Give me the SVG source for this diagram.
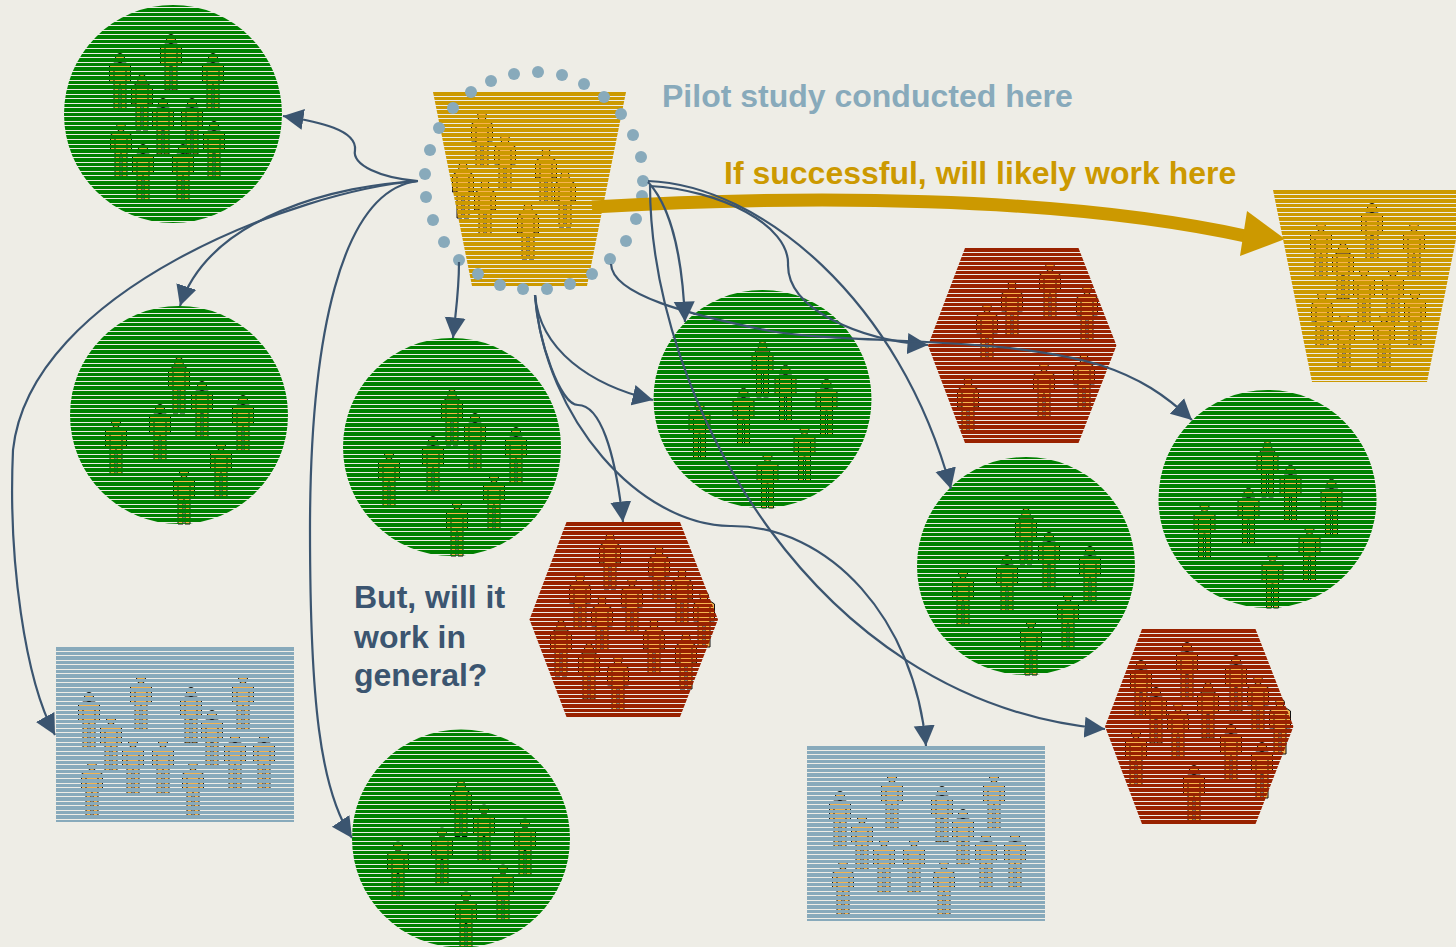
<svg xmlns="http://www.w3.org/2000/svg" width="1456" height="947" viewBox="0 0 1456 947">
<style>
.bg{fill:#eeede6}
.p{fill:#f6b450;stroke:#111;stroke-width:1}
.st{fill:none;stroke-dasharray:3.55 1;shape-rendering:crispEdges}
.c{fill:none;stroke:#3b5570;stroke-width:2.2;marker-end:url(#ah)}
.d{fill:#88aabb}
text{font-family:"Liberation Sans",Arial,sans-serif;font-weight:700;font-size:32px}
</style>
<defs>
<clipPath id="kd"><circle r="109"/></clipPath>
<clipPath id="kh"><path d="M529.500 619.500L566.500 522H680L718 619.500L680 717H566.500z"/></clipPath>
<clipPath id="kr"><rect x="56" y="647" width="238" height="175"/></clipPath>
<clipPath id="kt"><path d="M433 92H626L587 286H472z"/></clipPath>
<clipPath id="ku"><path d="M1273 190H1466L1427 382H1312z"/></clipPath>
<marker id="ah" markerUnits="userSpaceOnUse" markerWidth="22" markerHeight="23" refX="20.5" refY="11" orient="auto" viewBox="0 0 22 22"><path d="M0 0.500L20.500 11L0 21.500z" fill="#3b5570"/></marker>
<g id="p" class="p"><circle cx="0" cy="5" r="4.500"/><path d="M-6 10H6L10.500 13V30H6V56H1V32H-1V56H-6V30H-10.500V13z"/><path d="M-6 14V30M6 14V30" fill="none"/></g>
<g id="c7"><use href="#p" x="0" y="-58"/><use href="#p" x="23" y="-34"/><use href="#p" x="64" y="-20"/><use href="#p" x="-63" y="3"/><use href="#p" x="-19" y="-11"/><use href="#p" x="42" y="26"/><use href="#p" x="5" y="53"/></g>
<g id="c10"><use href="#p" x="-2" y="-80"/><use href="#p" x="-53" y="-61"/><use href="#p" x="40" y="-61"/><use href="#p" x="-31" y="-40"/><use href="#p" x="-10" y="-16"/><use href="#p" x="19" y="-16"/><use href="#p" x="-52" y="8"/><use href="#p" x="41" y="7"/><use href="#p" x="-30" y="30"/><use href="#p" x="10" y="30"/></g>
<g id="cb"><use href="#p" x="141" y="674"/><use href="#p" x="89" y="692"/><use href="#p" x="111" y="715"/><use href="#p" x="191" y="687"/><use href="#p" x="243" y="674"/><use href="#p" x="212" y="710"/><use href="#p" x="133" y="738"/><use href="#p" x="163" y="738"/><use href="#p" x="193" y="761"/><use href="#p" x="235" y="733"/><use href="#p" x="264" y="733"/><use href="#p" x="92" y="761"/></g>
<line id="disc" class="st" x1="0" x2="0" y1="-110.500" y2="110" stroke="#008000" stroke-width="220" clip-path="url(#kd)"/>
<line id="hexa" class="st" x1="624" x2="624" y1="522" y2="717" stroke="#992200" stroke-width="190" clip-path="url(#kh)"/>
<line id="blu" class="st" x1="175" x2="175" y1="647" y2="822" stroke="#88aabb" stroke-width="238" clip-path="url(#kr)"/>
</defs>
<rect class="bg" width="1456" height="947"/>
<g id="n-circle-1" transform="translate(173 114)"><use href="#c10"/><use href="#disc"/></g>
<g id="n-circle-2" transform="translate(179 415)"><use href="#c7"/><use href="#disc"/></g>
<g id="n-circle-3" transform="translate(452 447)"><use href="#c7"/><use href="#disc"/></g>
<g id="n-circle-4" transform="translate(762.500 399)"><use href="#c7"/><use href="#disc"/></g>
<g id="n-circle-5" transform="translate(1026 566)"><use href="#c7"/><use href="#disc"/></g>
<g id="n-circle-6" transform="translate(1267.500 499)"><use href="#c7"/><use href="#disc"/></g>
<g id="n-circle-7" transform="translate(461 838.500)"><use href="#c7"/><use href="#disc"/></g>
<g id="n-pilot"><use href="#p" x="482" y="111"/><use href="#p" x="505" y="134"/><use href="#p" x="546" y="148"/><use href="#p" x="565" y="171"/><use href="#p" x="463" y="162"/><use href="#p" x="485" y="180"/><use href="#p" x="528" y="203"/>
<line class="st" x1="530" x2="530" y1="92" y2="286" stroke="#cc9900" stroke-width="195" clip-path="url(#kt)"/></g>
<g id="n-ring"><circle class="d" cx="538" cy="72" r="6"/><circle class="d" cx="562" cy="75" r="6"/><circle class="d" cx="584" cy="84" r="6"/><circle class="d" cx="604" cy="97" r="6"/><circle class="d" cx="621" cy="114" r="6"/><circle class="d" cx="633" cy="135" r="6"/><circle class="d" cx="641" cy="157" r="6"/><circle class="d" cx="643" cy="181" r="6"/><circle class="d" cx="642" cy="196" r="6"/><circle class="d" cx="636" cy="219" r="6"/><circle class="d" cx="626" cy="241" r="6"/><circle class="d" cx="610" cy="259" r="6"/><circle class="d" cx="592" cy="274" r="6"/><circle class="d" cx="570" cy="284" r="6"/><circle class="d" cx="547" cy="289" r="6"/><circle class="d" cx="523" cy="289" r="6"/><circle class="d" cx="500" cy="285" r="6"/><circle class="d" cx="478" cy="274" r="6"/><circle class="d" cx="459" cy="260" r="6"/><circle class="d" cx="444" cy="242" r="6"/><circle class="d" cx="433" cy="220" r="6"/><circle class="d" cx="426" cy="197" r="6"/><circle class="d" cx="425" cy="174" r="6"/><circle class="d" cx="430" cy="150" r="6"/><circle class="d" cx="439" cy="128" r="6"/><circle class="d" cx="453" cy="108" r="6"/><circle class="d" cx="471" cy="92" r="6"/><circle class="d" cx="491" cy="81" r="6"/><circle class="d" cx="514" cy="74" r="6"/></g>
<g id="n-gold-2"><use href="#c10" transform="translate(1374 283)"/><line class="st" x1="1370" x2="1370" y1="190" y2="382" stroke="#cc9900" stroke-width="195" clip-path="url(#ku)"/></g>
<g id="n-hex-1"><use href="#p" x="610" y="533"/><use href="#p" x="659" y="546"/><use href="#p" x="682" y="569"/><use href="#p" x="580" y="573"/><use href="#p" x="632" y="577"/><use href="#p" x="602" y="596"/><use href="#p" x="704" y="591"/><use href="#p" x="561" y="620"/><use href="#p" x="654" y="619"/><use href="#p" x="686" y="633"/><use href="#p" x="589" y="643"/><use href="#p" x="618" y="655"/><use href="#hexa"/></g>
<g id="n-hex-2"><use href="#p" x="1187" y="642"/><use href="#p" x="1236" y="655"/><use href="#p" x="1258" y="675"/><use href="#p" x="1141" y="660"/><use href="#p" x="1156" y="687"/><use href="#p" x="1208" y="682"/><use href="#p" x="1178" y="702"/><use href="#p" x="1280" y="698"/><use href="#p" x="1136" y="729"/><use href="#p" x="1231" y="724"/><use href="#p" x="1262" y="742"/><use href="#p" x="1194" y="765"/><use href="#hexa" transform="translate(575.500 107)"/></g>
<g id="n-hex-3"><use href="#p" x="1050" y="262"/><use href="#p" x="1012" y="281"/><use href="#p" x="1087" y="285"/><use href="#p" x="987" y="303"/><use href="#p" x="1084" y="354"/><use href="#p" x="1044" y="362"/><use href="#p" x="968" y="377"/><use href="#hexa" transform="translate(398.500 -274)"/></g>
<g id="n-blue-1"><use href="#cb"/><use href="#blu"/></g>
<g id="n-blue-2" transform="translate(751 99)"><use href="#cb"/><use href="#blu"/></g>
<g id="connectors">
<path d="M592 207C800 195 1060 195 1250 237" fill="none" stroke="#cc9900" stroke-width="13"/>
<path d="M1285 239L1247 211L1240 256z" fill="#cc9900"/>
<path class="c" d="M418 181C380 178 352 165 355 150C357 130 320 122 283 116"/>
<path class="c" d="M418 181C340 185 210 215 180 306"/>
<path class="c" d="M418 181C300 190 30 290 13 450C8 560 25 680 55 735"/>
<path class="c" d="M418 181C340 190 310 340 310 530C310 700 320 790 352 838"/>
<path class="c" d="M459 262C459 290 457 300 453 338"/>
<path class="c" d="M535 295C540 350 590 385 653 400"/>
<path class="c" d="M535 295C538 340 560 405 578 405C600 405 615 450 623 522"/>
<path class="c" d="M535 295C545 420 640 525 730 526C830 525 915 620 926 746"/>
<path class="c" d="M648 182C665 200 682 240 685 322"/>
<path class="c" d="M650 185C650 290 690 420 770 530C840 625 950 715 1105 729"/>
<path class="c" d="M650 186C720 190 790 225 788 265C788 310 860 340 928 345"/>
<path class="c" d="M648 181C760 185 900 300 951 489"/>
<path class="c" d="M611 264C612 295 690 315 770 331C850 345 1000 335 1100 365C1140 378 1165 395 1192 420"/>
</g>
<text x="662" y="107" fill="#88aabb">Pilot study conducted here</text>
<text x="724" y="184" fill="#cc9900">If successful, will likely work here</text>
<text x="354" y="608" fill="#3b5570">But, will it</text>
<text x="354" y="648" fill="#3b5570">work in</text>
<text x="354" y="686" fill="#3b5570">general?</text>
</svg>
